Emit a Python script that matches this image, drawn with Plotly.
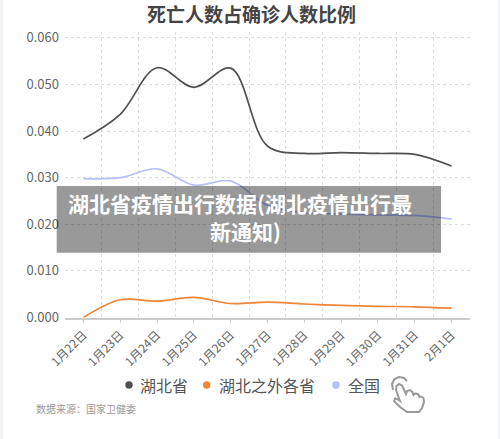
import plotly.graph_objects as go

# ---- data ----
dates = ["1月22日", "1月23日", "1月24日", "1月25日", "1月26日", "1月27日",
         "1月28日", "1月29日", "1月30日", "1月31日", "2月1日"]
series_names = ["湖北省", "湖北之外各省", "全国"]
hubei = [0.0383, 0.0436, 0.0536, 0.0494, 0.0535, 0.0368, 0.0352, 0.0354, 0.0352, 0.0350, 0.0325]
outside = [0.0000, 0.0038, 0.0035, 0.0043, 0.0030, 0.0033, 0.0029, 0.0026, 0.0024, 0.0023, 0.0020]
national = [0.0298, 0.0300, 0.0319, 0.0284, 0.0293, 0.0241, 0.0225, 0.0222, 0.0220, 0.0219, 0.0211]
y_ticks = [0.0, 0.01, 0.02, 0.03, 0.04, 0.05, 0.06]
title_text = "死亡人数占确诊人数比例"
source_text = "数据来源：国家卫健委"
overlay_lines = ["湖北省疫情出行数据(湖北疫情出行最", "新通知)"]

colors = ["#505050", "#ef8638", "#b6c0fa"]
W, H = 500, 439
FONT = "Noto Sans CJK SC"


def px(x):
    return x / W


def py(y):
    return 1 - y / H


xs = list(range(len(dates)))
fig = go.Figure()
for name, vals, c in zip(series_names, [hubei, outside, national], colors):
    fig.add_trace(go.Scatter(
        x=xs, y=vals, name=name, mode="lines",
        line=dict(color=c, width=1.7, shape="spline", smoothing=1.0),
        showlegend=False, hoverinfo="skip"))

fig.update_layout(
    width=W, height=H, autosize=False,
    margin=dict(l=0, r=0, t=0, b=0),
    paper_bgcolor="white", plot_bgcolor="white",
    font=dict(family=FONT, color="#666"),
    showlegend=False,
)

fig.update_xaxes(
    domain=[px(65), px(470)], range=[-0.5, 10.5],
    tickmode="array", tickvals=xs, ticktext=dates, tickangle=-45,
    tickfont=dict(size=12, color="#666", family=FONT),
    showgrid=False, zeroline=False,
    showline=True, linecolor="#cccccc", linewidth=1.5,
    ticks="outside", ticklen=4, tickcolor="#cccccc",
    minor=dict(tickvals=[i + 0.5 for i in range(len(dates))], showgrid=True,
               gridcolor="#dddddd", griddash="dot", gridwidth=1, ticks=""),
    automargin=False, fixedrange=True,
)
fig.update_yaxes(
    domain=[py(317.5), py(31.5)], range=[0, 0.06137],
    tickmode="array", tickvals=y_ticks, tickformat=".3f",
    tickfont=dict(size=13, color="#666", family=FONT),
    showgrid=True, gridcolor="#dddddd", griddash="dot", gridwidth=1,
    zeroline=False, showline=False, ticks="",
    ticklabelstandoff=5,
    automargin=False, fixedrange=True,
)

annotations = [
    dict(text="<b>" + title_text + "</b>", x=px(251), y=py(14), xref="paper", yref="paper",
         xanchor="center", yanchor="middle", showarrow=False,
         font=dict(size=19, color="#444", family=FONT)),
    dict(text=source_text, x=px(34), y=py(408), xref="paper", yref="paper",
         xanchor="left", yanchor="middle", showarrow=False,
         font=dict(size=10, color="#999", family=FONT)),
]

shapes = [
    # light side bands of the page
    dict(type="rect", xref="paper", yref="paper", x0=0, x1=px(3), y0=0, y1=1,
         fillcolor="#f4f5f7", line=dict(width=0), layer="below"),
    dict(type="rect", xref="paper", yref="paper", x0=px(497.5), x1=1, y0=0, y1=1,
         fillcolor="#f4f5f7", line=dict(width=0), layer="below"),
]

# legend drawn manually
dot_x = [129, 206.7, 336]
txt_x = [138.3, 216.7, 345.7]
for name, c, dx, tx in zip(series_names, colors, dot_x, txt_x):
    shapes.append(dict(type="circle", xref="paper", yref="paper",
                       x0=px(dx - 3.7), x1=px(dx + 3.7), y0=py(385 + 3.7), y1=py(385 - 3.7),
                       fillcolor=c, line=dict(width=0)))
    annotations.append(dict(text=name, x=px(tx), y=py(384.5), xref="paper", yref="paper",
                            xanchor="left", yanchor="middle", showarrow=False,
                            font=dict(size=16, color="#555", family=FONT)))

# hand (tap) icon


def pth(pts, close=True):
    s = "M " + " L ".join(f"{px(a):.5f},{py(b):.5f}" for a, b in pts)
    return s + (" Z" if close else "")


hand = [(400, 401), (396, 390), (396.5, 386), (399, 384), (402, 385.5), (406, 394),
        (407, 391), (410, 390), (412.5, 392), (413.5, 395),
        (415, 393.5), (418, 394), (419.5, 397),
        (421, 396.5), (423.5, 398), (424, 402), (422, 408), (419, 412),
        (407, 412), (400, 407), (394, 401), (395, 398.5), (398, 399.5)]
shapes.append(dict(type="path", xref="paper", yref="paper", path=pth(hand),
                   line=dict(color="#999", width=2), fillcolor="white"))
arc1 = [(393, 390), (392, 384), (394.5, 379), (399, 377), (404, 378), (407, 381)]
shapes.append(dict(type="path", xref="paper", yref="paper", path=pth(arc1, False),
                   line=dict(color="#999", width=2)))

# overlay title box
shapes.append(dict(type="rect", xref="paper", yref="paper",
                   x0=px(56.7), x1=px(441), y0=py(252.7), y1=py(186),
                   fillcolor="rgba(0,0,0,0.4)", line=dict(width=0), layer="above"))
annotations.append(dict(text="<b>" + overlay_lines[0] + "</b>", x=px(239.5), y=py(203),
                        xref="paper", yref="paper", xanchor="center", yanchor="middle",
                        showarrow=False, font=dict(size=21, color="white", family=FONT)))
annotations.append(dict(text="<b>" + overlay_lines[1] + "</b>", x=px(245.5), y=py(231),
                        xref="paper", yref="paper", xanchor="center", yanchor="middle",
                        showarrow=False, font=dict(size=21, color="white", family=FONT)))

fig.update_layout(annotations=annotations, shapes=shapes)
fig.write_html(
    "out.html",
    config={"displayModeBar": False},
    post_script="document.body.style.margin='0';document.documentElement.style.overflow='hidden';",
)
